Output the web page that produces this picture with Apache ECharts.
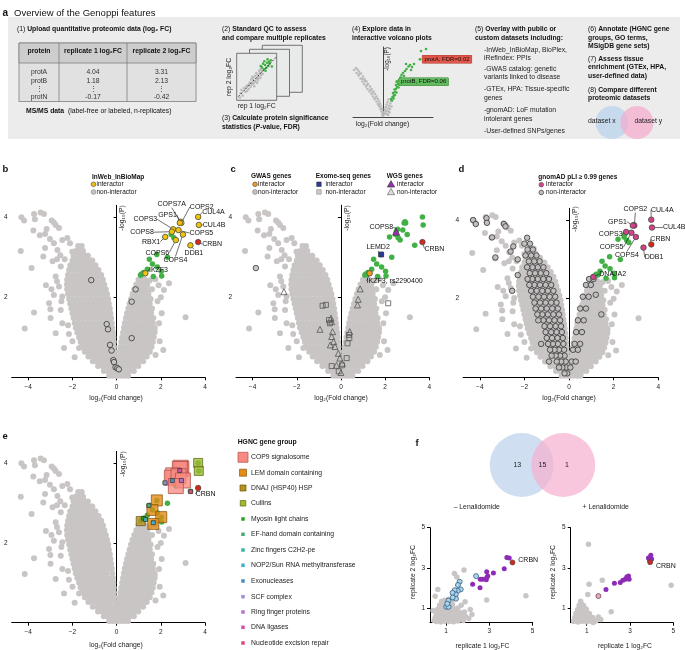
<!DOCTYPE html>
<html>
<head>
<meta charset="utf-8">
<script src="https://cdn.jsdelivr.net/npm/echarts@6/dist/echarts.min.js"></script>
<style>
html, body { margin: 0; padding: 0; background: #fff; }
#chart { width: 685px; height: 650px; }
</style>
</head>
<body>
<div id="chart"></div>
<script>
// ---- data ----

// background proteins of the volcano plots b-e: rows of [-log10 P, [log2FC ...]]
const grayRows = [
  [0.04, [-0.34, -0.18, -0.02, 0.03, 0.2, 0.36, 0.52]],
  [0.16, [-0.58, -0.4, -0.22, -0.04, 0.05, 0.24, 0.42, 0.6, 0.78]],
  [0.28, [-0.84, -0.64, -0.45, -0.26, -0.05, 0.07, 0.26, 0.44, 0.62, 0.8, 0.98]],
  [0.40, [-1.08, -0.88, -0.68, -0.48, -0.28, -0.06, 0.09, 0.28, 0.46, 0.64, 0.82, 1.0, 1.2]],
  [0.52, [-1.28, -1.08, -0.88, -0.68, -0.48, -0.28, -0.08, 0.11, 0.3, 0.48, 0.66, 0.84, 1.02, 1.2, 1.36]],
  [0.64, [-1.44, -1.24, -1.04, -0.84, -0.64, -0.44, -0.26, -0.1, 0.14, 0.32, 0.5, 0.68, 0.86, 1.04, 1.22, 1.4, 1.5]],
  [0.76, [-1.54, -1.34, -1.14, -0.94, -0.74, -0.54, -0.34, -0.12, 0.17, 0.36, 0.54, 0.72, 0.9, 1.08, 1.26, 1.44, 1.58]],
  [0.88, [-1.62, -1.42, -1.22, -1.02, -0.82, -0.62, -0.42, -0.25, -0.13, 0.21, 0.4, 0.58, 0.76, 0.94, 1.12, 1.3, 1.48, 1.64]],
  [1.00, [-1.7, -1.5, -1.3, -1.1, -0.9, -0.7, -0.5, -0.3, -0.15, 0.25, 0.44, 0.62, 0.8, 0.98, 1.16, 1.34, 1.52, 1.68]],
  [1.12, [-1.78, -1.58, -1.38, -1.18, -0.98, -0.78, -0.58, -0.38, -0.17, 0.29, 0.48, 0.66, 0.84, 1.02, 1.2, 1.38, 1.56, 1.72]],
  [1.24, [-1.85, -1.65, -1.45, -1.25, -1.05, -0.85, -0.65, -0.45, -0.2, 0.33, 0.52, 0.7, 0.88, 1.06, 1.24, 1.42, 1.6, 1.72]],
  [1.36, [-1.9, -1.7, -1.5, -1.3, -1.1, -0.9, -0.7, -0.5, -0.36, -0.22, 0.37, 0.56, 0.74, 0.92, 1.1, 1.28, 1.46, 1.64]],
  [1.48, [-1.95, -1.75, -1.55, -1.35, -1.15, -0.95, -0.75, -0.55, -0.4, -0.25, 0.42, 0.6, 0.78, 0.96, 1.14, 1.32, 1.5, 1.66]],
  [1.60, [-2.0, -1.8, -1.6, -1.4, -1.2, -1.0, -0.8, -0.6, -0.44, -0.28, 0.47, 0.66, 0.84, 1.02, 1.2, 1.38, 1.56]],
  [1.72, [-2.05, -1.85, -1.65, -1.45, -1.25, -1.05, -0.85, -0.65, -0.48, -0.31, 0.53, 0.72, 0.9, 1.08, 1.26, 1.44, 1.6]],
  [1.84, [-2.1, -1.9, -1.7, -1.5, -1.3, -1.1, -0.9, -0.7, -0.52, -0.35, 0.59, 0.78, 0.96, 1.14, 1.32, 1.5]],
  [1.96, [-2.15, -1.95, -1.75, -1.55, -1.35, -1.15, -0.95, -0.75, -0.56, -0.38, 0.65, 0.84, 1.02, 1.2, 1.38, 1.54]],
  [2.08, [-2.2, -2.0, -1.8, -1.6, -1.4, -1.2, -1.0, -0.8, -0.6, -0.43, 0.72, 0.9, 1.08, 1.26, 1.44]],
  [2.20, [-2.24, -2.04, -1.84, -1.64, -1.44, -1.24, -1.04, -0.84, -0.66, -0.49, 0.8, 0.98, 1.16, 1.32, 1.45]],
  [2.32, [-2.25, -2.05, -1.85, -1.65, -1.45, -1.25, -1.05, -0.88, -0.72, -0.56, 0.89, 1.06, 1.22, 1.38]],
  [2.44, [-2.24, -2.04, -1.84, -1.64, -1.44, -1.24, -1.06, -0.9, -0.76, -0.62, 0.99, 1.14, 1.28]],
  [2.56, [-2.2, -2.0, -1.8, -1.6, -1.42, -1.26, -1.1, -0.95, -0.8, -0.7, 1.08, 1.2]],
  [2.68, [-2.15, -1.95, -1.75, -1.57, -1.4, -1.24, -1.08, -0.92, -0.82]],
  [2.80, [-2.1, -1.9, -1.72, -1.55, -1.38, -1.22, -1.06, -0.96]],
  [2.92, [-2.0, -1.82, -1.65, -1.5, -1.34, -1.18, -1.1]],
  [3.04, [-1.95, -1.78, -1.6, -1.44, -1.3]],
  [3.16, [-1.85, -1.68, -1.52]],
  [3.28, [-1.74, -1.58]]
];
const grayOutliers = [
  [-4.31, 4.0], [-4.19, 3.92], [-3.74, 4.08], [-3.7, 3.95], [-3.44, 4.12], [-3.29, 4.08], [-2.94, 3.92],
  [-2.84, 3.87], [-2.76, 3.81], [-2.61, 3.73], [-3.17, 3.71], [-3.48, 3.55], [-3.24, 3.58], [-3.77, 3.67],
  [-4.34, 3.16], [-3.85, 2.73], [-3.32, 3.02], [-3.24, 3.23], [-3.02, 3.46], [-2.84, 3.35], [-2.68, 3.18],
  [-2.46, 3.43], [-2.23, 3.48], [-2.11, 3.35], [-2.01, 3.14], [-2.53, 2.77], [-2.76, 2.52], [-2.61, 2.27],
  [-2.84, 2.06], [-2.46, 2.02], [-3.06, 1.85], [-3.74, 1.62], [-4.16, 1.22], [-2.53, 1.68], [-2.46, 1.35],
  [-2.38, 0.73], [-1.7, 0.73], [-1.63, 0.89], [-2.16, 1.08], [-2.76, 1.1], [-2.99, 1.48], [-2.9, 2.9],
  [-2.7, 2.95], [-2.35, 2.95], [-2.55, 3.05], [-2.7, 2.4], [-2.5, 1.9], [-2.2, 1.3], [-1.9, 0.5],
  [-2.0, 0.9], [-3.2, 2.3], [-2.95, 2.2], [-3.0, 1.7],
  [3.12, 1.5], [2.37, 2.35], [2.14, 2.18], [2.11, 0.68], [1.76, 0.56], [2.04, 1.6], [1.92, 1.35],
  [1.72, 1.18], [2.0, 2.0], [1.9, 2.3], [1.85, 1.9], [1.95, 0.9], [1.6, 2.2], [1.75, 2.45], [1.5, 2.42]
];

// significant proteins (green), [log2FC, -log10 P, gene]
const sigPoints = [
  [3.69, 4.01, 'CUL4A'], [3.72, 3.81, 'CUL4B'], [2.90, 3.89, 'COPS7A'], [2.93, 3.86, 'COPS2'],
  [2.86, 3.86, 'GPS1'], [2.56, 3.70, 'COPS3'], [2.50, 3.64, 'COPS8'], [2.80, 3.68, 'COPS5'],
  [3.00, 3.57, 'COPS4'], [2.20, 3.51, 'RBX1'], [2.68, 3.43, 'COPS6'], [3.34, 3.30, 'DDB1'],
  [1.30, 2.60, 'IKZF3'], [1.82, 3.07, 'LEMD2'], [1.09, 2.55, 'DNAJA2'],
  [2.47, 3.57, ''], [2.59, 3.49, ''], [2.30, 3.00, ''], [1.48, 2.95, ''], [1.62, 2.83, ''],
  [1.84, 2.76, ''], [1.39, 2.70, ''], [2.02, 2.65, ''], [1.13, 2.58, ''], [1.66, 2.52, ''],
  [2.04, 2.53, ''], [1.22, 2.62, '']
];
const baitPoint = [3.69, 3.38, 'CRBN'];

// b: InWeb_InBioMap
const inwebGenes = ['CUL4A', 'CUL4B', 'COPS7A', 'COPS2', 'GPS1', 'COPS3', 'COPS8', 'COPS5', 'COPS4', 'RBX1', 'COPS6', 'DDB1', 'IKZF3'];
const inwebNon = [[-1.15, 2.43], [0.86, 2.2], [0.68, 1.89], [-0.45, 1.33], [-0.39, 1.2], [0.68, 0.98], [-0.3, 0.81],
  [-0.23, 0.67], [-0.15, 0.43], [-0.12, 0.38], [-0.05, 0.25], [0.03, 0.23], [0.1, 0.2]];

// c: GWAS / Exome-seq / WGS
const gwasGenes = ['IKZF3'];
const exomeGenes = ['LEMD2'];
const wgsGenes = ['COPS8'];
const gwasNon = [[-3.85, 2.73]];
const exomeNon = [[-0.68, 1.81], [-0.83, 1.79], [2.14, 1.85], [-0.54, 1.43], [-0.5, 1.35], [-0.42, 0.28],
  [0.26, 0.48], [0.36, 1.06], [0.38, 0.98], [0.3, 0.85], [-0.1, 0.15], [0.05, 0.3]];
const wgsNon = [[-2.58, 2.14], [0.87, 2.21], [0.78, 1.95], [0.75, 1.81], [-0.45, 1.48], [-0.42, 1.39], [-0.95, 1.2],
  [-0.38, 1.14], [-0.42, 1.02], [-0.33, 0.89], [-0.27, 0.77], [-0.12, 0.6], [-0.05, 0.48], [0.06, 0.35],
  [0, 0.12], [0.4, 1.14], [-0.48, 0.81], [-0.2, 0.3]];

// d: gnomAD pLI >= 0.99
const gnomadGenes = ['COPS2', 'GPS1', 'CUL4A', 'CUL4B', 'COPS3', 'COPS5', 'COPS4', 'DDB1', 'DNAJA2'];
const gnomadNonRows = [
  [0.10, [-0.08, -0.2]], [0.25, [-0.12, -0.3, -0.45, 0.06]], [0.40, [-0.15, -0.35, -0.55, 0.12, 0.3]],
  [0.55, [-0.2, -0.4, -0.6, -0.78]], [0.70, [-0.22, -0.45, -0.65, -0.85, 0.18, 0.4]],
  [0.85, [-0.25, -0.5, -0.72, -0.94, 0.25, 0.5]], [1.00, [-0.28, -0.52, -0.76, -1.0]],
  [1.15, [-0.32, -0.56, -0.8, -1.05, 0.32, 0.58]], [1.30, [-0.36, -0.6, -0.85, -1.1]],
  [1.45, [-0.4, -0.65, -0.9, -1.15, -1.38, 0.4, 0.66]], [1.60, [-0.45, -0.7, -0.95, -1.2, -1.42]],
  [1.75, [-0.5, -0.75, -1.0, -1.25, -1.5, 0.5, 0.76]], [1.90, [-0.56, -0.8, -1.05, -1.3, -1.55]],
  [2.05, [-0.62, -0.87, -1.12, -1.37, -1.62, 0.62, 0.88]], [2.20, [-0.7, -0.95, -1.2, -1.45, -1.7]],
  [2.35, [-0.8, -1.05, -1.3, -1.55, -1.78, 0.76, 0.98]], [2.50, [-0.9, -1.15, -1.4, -1.65, -1.86, 0.9, 1.1]],
  [2.65, [-1.02, -1.27, -1.52, -1.76]], [2.80, [-1.15, -1.4, -1.64, -1.88]], [2.95, [-1.32, -1.56, -1.8]],
  [3.10, [-1.46, -1.7, -1.95]], [3.25, [-1.62, -1.86]], [3.40, [-1.75, -2.0]], [3.55, [-1.88]]
];
const gnomadNonOutliers = [[-4.3, 4.0], [-4.18, 3.9], [-3.7, 4.05], [-3.68, 3.93], [-2.92, 3.9], [-2.85, 3.84],
  [-3.45, 3.56], [-2.5, 3.33], [-2.62, 3.2], [-3.3, 3.05], [-2.55, 2.2], [-2.3, 2.6], [1.45, 1.6], [1.2, 2.1],
  [-0.9, 0.4], [-1.25, 0.85], [-2.3, 3.0]];

// e: HGNC gene groups
const hgncGroups = ['COP9 signalosome', 'LEM domain containing', 'DNAJ (HSP40) HSP', 'Cullins', 'Myosin light chains',
  'EF-hand domain containing', 'Zinc fingers C2H2-pe', 'NOP2/Sun RNA methyltransferase', 'Exonucleases',
  'SCF complex', 'Ring finger proteins', 'DNA ligases', 'Nucleotide excision repair'];
const hgncColors = ['#f88a83', '#e38b12', '#b8921e', '#9fb92e', '#2c9f28', '#4aa878', '#3cb3a0', '#3fb0cc',
  '#4a8cc0', '#9494d4', '#b672c8', '#d252a6', '#dc4a84'];
const hgncPoints = [
  [[2.90, 3.89], [2.93, 3.86], [2.86, 3.86], [2.56, 3.70], [2.50, 3.64], [2.80, 3.68], [3.00, 3.57], [2.68, 3.43]],
  [[1.82, 3.07], [1.62, 2.83], [2.02, 2.65], [1.66, 2.48]],
  [[1.09, 2.55]],
  [[3.69, 4.01], [3.72, 3.81]],
  [[1.22, 2.62]],
  [[1.46, 2.94]],
  [[1.31, 2.59]],
  [[1.66, 2.51]],
  [[2.52, 3.57]],
  [[2.19, 3.51]],
  [[2.93, 3.57]],
  [[2.86, 3.82]],
  [[3.35, 3.29]]
];

// f: overlap of two IP experiments
const vennLabels = ['\u2013 Lenalidomide', '+ Lenalidomide'];
const vennCounts = [13, 15, 1];
const fLeftGray = [[0.45, 0.4], [0.55, 0.35], [0.65, 0.42], [0.75, 0.33], [0.85, 0.4], [0.95, 0.36], [1.05, 0.42],
  [1.15, 0.35], [1.25, 0.4], [1.35, 0.34], [1.45, 0.42], [1.55, 0.38], [1.65, 0.45], [1.8, 0.4], [0.5, 0.55],
  [0.6, 0.6], [0.7, 0.52], [0.8, 0.62], [0.9, 0.55], [1.0, 0.6], [1.1, 0.52], [1.2, 0.62], [1.3, 0.55], [1.4, 0.6],
  [1.5, 0.55], [1.62, 0.62], [1.75, 0.58], [1.9, 0.6], [2.05, 0.5], [0.55, 0.75], [0.65, 0.8], [0.75, 0.72],
  [0.85, 0.82], [0.95, 0.75], [1.05, 0.82], [1.15, 0.74], [1.25, 0.84], [1.35, 0.78], [1.5, 0.8], [1.65, 0.78],
  [1.85, 0.82], [0.6, 0.95], [0.72, 1.0], [0.85, 0.95], [0.95, 1.02], [1.08, 0.96], [1.2, 1.05], [1.35, 1.0],
  [1.55, 1.02], [0.7, 1.15], [0.85, 1.2], [1.0, 1.15], [1.15, 1.25], [1.3, 1.2], [0.8, 1.35], [0.95, 1.4],
  [1.1, 1.45], [1.25, 1.35], [0.62, 1.94], [1.39, 2.73], [1.5, 2.56], [1.83, 2.9], [1.88, 1.33], [2.12, 0.95],
  [2.88, 1.41], [4.69, 1.62], [0.5, 1.6], [1.7, 1.15], [2.2, 0.7], [0.4, 0.9]];
const fLeftPurple = [[3.81, 3.52], [3.92, 3.5], [3.69, 2.96], [3.19, 2.76], [2.88, 2.81], [2.93, 2.6], [2.86, 2.42],
  [2.69, 2.45], [2.58, 2.44], [2.57, 2.02], [2.23, 2.2], [2.88, 2.53]];
const fLeftBlue = [[2.39, 2.6], [1.63, 2.32], [1.55, 2.16], [1.68, 1.94], [1.54, 1.87], [1.4, 1.9], [1.45, 1.69],
  [1.3, 1.77], [1.46, 1.48], [1.31, 1.54], [1.11, 1.38], [1.01, 1.08], [1.12, 1.08], [1.06, 1.23]];
const fLeftBait = [4.07, 3.28, 'CRBN'];
const fRightGray = [[0.4, 0.35], [0.5, 0.4], [0.6, 0.33], [0.7, 0.42], [0.8, 0.36], [0.9, 0.4], [1.0, 0.34],
  [1.1, 0.4], [1.2, 0.36], [1.3, 0.42], [1.42, 0.38], [0.45, 0.55], [0.55, 0.6], [0.65, 0.52], [0.75, 0.62],
  [0.85, 0.55], [0.95, 0.6], [1.05, 0.52], [1.15, 0.6], [1.28, 0.55], [0.5, 0.75], [0.6, 0.8], [0.7, 0.72],
  [0.8, 0.82], [0.9, 0.75], [1.0, 0.8], [1.12, 0.74], [0.58, 0.95], [0.68, 1.0], [0.78, 0.94], [0.88, 1.02],
  [0.98, 0.96], [0.65, 1.15], [0.75, 1.22], [0.85, 1.14], [0.72, 1.35], [1.54, 0.57], [1.08, 4.18], [1.11, 2.2],
  [1.05, 1.69], [1.72, 2.4], [2.13, 0.83], [4.9, 2.15], [1.3, 0.3], [1.65, 0.45]];
const fRightPurple = [[3.96, 3.64], [3.85, 3.5], [4.0, 3.45], [3.9, 3.4], [2.93, 2.61], [2.96, 2.45], [2.78, 2.45],
  [2.67, 2.4], [2.55, 2.28], [2.28, 2.24], [1.89, 1.94], [2.85, 2.56]];
const fRightPink = [[1.54, 1.61]];
const fRightBait = [3.93, 3.29, 'CRBN'];

// a: example table and mini plots
const tableHeader = ['protein', 'replicate 1 log\u2082FC', 'replicate 2 log\u2082FC'];
const tableRows = [['protA', '4.04', '3.31'], ['protB', '1.18', '2.13'], ['\u22ee', '\u22ee', '\u22ee'], ['protN', '-0.17', '-0.42']];
const qcGray = [[1, 1.5], [1.5, 1], [2, 2.5], [2.2, 1.8], [2.8, 3.2], [3, 2.4], [3.3, 3.8], [3.5, 2.9], [3.8, 3.4],
  [4, 4.5], [4.2, 3.6], [4.5, 4.1], [4.6, 5.2], [4.8, 3.9], [5, 4.6], [5.2, 5.5], [5.3, 4.3], [5.5, 5.0], [5.8, 5.8],
  [5.9, 4.8], [6.1, 5.4], [6.3, 6.2], [4.4, 3.0], [3.6, 4.4], [2.6, 2.0], [1.8, 2.6], [6.5, 5.6], [5.6, 6.3],
  [4.9, 5.8], [3.9, 5.0], [5.1, 3.7], [6.0, 6.6], [2.4, 3.0], [3.1, 3.4], [4.1, 4.9], [5.4, 4.7], [1.2, 2.2], [0.8, 0.6]];
const qcGreen = [[6.3, 7.0], [6.8, 6.6], [7.1, 7.5], [7.4, 6.9], [7.6, 8.0], [7.9, 7.3], [8.2, 7.8], [6.6, 7.8],
  [7.2, 6.3], [8.5, 8.5], [8.8, 7.2], [6.9, 8.3], [7.7, 8.7], [6.0, 7.3], [8.1, 8.2]];
const qcDiagonal = [[0.4, 0.8], [10, 9.3]];
const mvGray = [[-2.7, 4.9], [-2.55, 4.75], [-2.4, 4.55], [-2.65, 4.4], [-2.2, 4.35], [-2.45, 4.15], [-2.0, 4.05],
  [-2.25, 3.85], [-1.85, 3.8], [-2.05, 3.55], [-1.65, 3.55], [-1.9, 3.3], [-1.5, 3.3], [-1.7, 3.05], [-1.3, 3.05],
  [-1.55, 2.8], [-1.15, 2.8], [-1.35, 2.55], [-0.95, 2.55], [-1.15, 2.3], [-0.8, 2.3], [-1.0, 2.05], [-0.65, 2.05],
  [-0.85, 1.8], [-0.5, 1.8], [-0.65, 1.55], [-0.38, 1.55], [-0.5, 1.3], [-0.28, 1.3], [-0.36, 1.05], [-0.18, 1.05],
  [-0.25, 0.8], [-0.1, 0.8], [-0.15, 0.55], [-0.05, 0.5], [-0.08, 0.25], [0, 0.1], [-1.8, 3.6], [-2.35, 4.3],
  [-1.25, 2.7], [-0.75, 1.9], [-0.45, 1.2], [-2.9, 4.7], [-2.1, 3.8], [-1.6, 3.2], [-1.05, 2.45],
  [0.06, 0.25], [0.12, 0.5], [0.2, 0.75], [0.28, 1.0], [0.36, 1.25], [0.45, 1.5], [0.55, 1.75], [0.22, 0.35],
  [0.35, 0.6], [0.48, 0.85], [0.6, 1.1], [0.72, 1.35], [0.82, 1.6], [0.38, 0.3], [0.55, 0.55], [0.7, 0.8],
  [0.85, 1.05], [0.5, 0.2], [0.65, 0.45]];
const mvGreen = [[0.8, 1.8], [0.95, 2.0], [0.9, 1.65], [1.05, 1.85], [1.1, 2.2], [1.0, 2.4], [1.2, 2.5], [1.3, 2.8],
  [1.15, 2.75], [1.4, 3.0], [1.3, 3.2], [1.5, 3.3], [1.45, 3.55], [1.6, 3.7], [1.7, 3.5], [1.75, 3.95], [1.85, 4.2],
  [1.9, 3.8], [2.0, 4.4], [2.1, 4.1], [2.2, 4.6], [2.35, 4.8], [2.3, 5.3], [2.55, 5.05], [2.7, 5.2], [2.9, 5.0],
  [3.1, 5.3], [2.8, 4.7], [3.8, 6.6], [4.3, 6.8], [1.2, 2.2], [1.35, 2.45], [1.55, 2.95], [1.65, 3.2], [1.05, 2.05]];
const mvLabelled = [[3.7, 5.77, 'protA, FDR=0.02'], [1.37, 3.53, 'protB, FDR=0.06']];

// ---- drawing ----
const FONT = 'Liberation Sans, Arial, Helvetica, sans-serif';
const GRAY = '#c9c5c5';
const GREEN = '#41b045';
const RED = '#d42a1e';
const chart = echarts.init(document.getElementById('chart'));

const sigByName = {};
sigPoints.forEach(p => { if (p[2]) sigByName[p[2]] = p; });
sigByName.CRBN = baitPoint;
const rowsToPoints = rows => rows.flatMap(([y, xs]) => xs.map(x => [x, y]));
const grayPoints = rowsToPoints(grayRows).concat(grayOutliers);
const gnomadNon = rowsToPoints(gnomadNonRows).concat(gnomadNonOutliers);
const sigXY = sigPoints.map(p => [p[0], p[1]]);

const minus = v => (v < 0 ? '\u2212' + Math.abs(v) : String(v));
const axisLineStyle = { color: '#000', width: 1 };

function volcanoX(gi) {
  return {
    gridIndex: gi, type: 'value', min: -4.75, max: 4,
    axisLine: { lineStyle: axisLineStyle },
    axisTick: { customValues: [-4, -2, 0, 2, 4], length: 3, lineStyle: axisLineStyle },
    axisLabel: { customValues: [-4, -2, 0, 2, 4], formatter: minus, fontSize: 6.5, color: '#222', margin: 6 },
    splitLine: { show: false }
  };
}
function volcanoY(gi) {
  return {
    gridIndex: gi, type: 'value', min: 0, max: 4.3,
    axisLine: { onZero: true, lineStyle: axisLineStyle },
    axisTick: { customValues: [2, 4], length: 3, lineStyle: axisLineStyle },
    axisLabel: { customValues: [2, 4], fontSize: 6.5, color: '#222', margin: 4 },
    splitLine: { show: false }
  };
}
function repAxis(gi, min) {
  return {
    gridIndex: gi, type: 'value', min: min, max: 5,
    axisLine: { onZero: false, lineStyle: axisLineStyle },
    axisTick: { customValues: [1, 3, 5], length: 3, lineStyle: axisLineStyle },
    axisLabel: { customValues: [1, 3, 5], fontSize: 6.5, color: '#222', margin: 5 },
    splitLine: { show: false }
  };
}
function hiddenAxis(gi, min, max) {
  return { gridIndex: gi, type: 'value', min, max, show: false };
}

function pts(gi, data, size, itemStyle, extra) {
  return Object.assign({
    type: 'scatter', xAxisIndex: gi, yAxisIndex: gi, data, symbolSize: size,
    itemStyle: Object.assign({ opacity: 1, borderWidth: 0 }, itemStyle), silent: true
  }, extra || {});
}

// labelled highlight points; offsets are [dx, dy, align, text?] in pixels from the point
function labelled(gi, genes, offsets, size, itemStyle, extra) {
  const data = genes.map(g => ({ name: g, value: [sigByName[g][0], sigByName[g][1]] }));
  return Object.assign({
    type: 'scatter', xAxisIndex: gi, yAxisIndex: gi, data, symbolSize: size,
    itemStyle: Object.assign({ opacity: 1 }, itemStyle), silent: true, z: 5,
    label: {
      show: true, position: 'inside', fontSize: 7, color: '#111', fontFamily: FONT,
      formatter: p => (offsets[p.name] && offsets[p.name][3]) || p.name
    },
    labelLine: { show: true, lineStyle: { color: '#111', width: 0.6 } },
    labelLayout: p => {
      const o = offsets[data[p.dataIndex].name] || [6, 0, 'left'];
      return {
        x: p.rect.x + p.rect.width / 2 + o[0], y: p.rect.y + p.rect.height / 2 + o[1],
        align: o[2], verticalAlign: 'middle'
      };
    }
  }, extra || {});
}

const bOffsets = {
  CUL4A: [4, -4.5, 'left'], CUL4B: [4, 0, 'left'], COPS7A: [-9, -17.5, 'center'], COPS2: [8.5, -16, 'left'],
  GPS1: [-3, -8, 'right'], COPS3: [-16, -10, 'right'], COPS8: [-18, 0.5, 'right'], COPS5: [11, 3, 'left'],
  RBX1: [-5, 4.8, 'right'], COPS6: [-18.5, 12.5, 'center'], COPS4: [-7.5, 25.5, 'center'],
  DDB1: [3.5, 7.5, 'center'], CRBN: [4, 2, 'left'], IKZF3: [3.6, -3.3, 'left']
};
const cOffsets = {
  COPS8: [-3, -4.5, 'right'], LEMD2: [-3, -7, 'center'], IKZF3: [-3, 7.5, 'left', 'IKZF3, rs2290400'],
  CRBN: [2, 6.5, 'left']
};
const dOffsets = {
  COPS2: [1, -16.5, 'center'], GPS1: [-6, -4, 'right'], CUL4A: [11, -10, 'center'], CUL4B: [11, 0, 'left'],
  COPS3: [-3.5, 2, 'right'], COPS5: [-8, 14.5, 'right'], COPS4: [-9, 18, 'center'], DDB1: [10.5, 9.7, 'center'],
  DNAJA2: [6, -3, 'left'], CRBN: [9, -5, 'center']
};
const eOffsets = { CRBN: [-2.5, 6, 'left'] };

const outline = c => ({ color: c, borderColor: '#444', borderWidth: 0.7 });
const series = [];

// panel b
series.push(pts(0, grayPoints, 6, { color: GRAY }));
series.push(pts(0, inwebNon, 5.5, { color: GRAY, borderColor: '#333', borderWidth: 0.8 }));
series.push(pts(0, sigXY, 5.5, { color: GREEN }));
series.push(labelled(0, inwebGenes, bOffsets, 5.5, outline('#f4c20d')));
series.push(labelled(0, ['CRBN'], bOffsets, 5.5, outline(RED)));
// panel c
series.push(pts(1, grayPoints, 6, { color: GRAY }));
series.push(pts(1, gwasNon, 5.5, { color: GRAY, borderColor: '#444', borderWidth: 0.8 }));
series.push(pts(1, exomeNon, 5, { color: 'rgba(255,255,255,0)', borderColor: '#555', borderWidth: 0.8 }, { symbol: 'rect' }));
series.push(pts(1, wgsNon, 6, { color: 'rgba(255,255,255,0)', borderColor: '#555', borderWidth: 0.8 }, { symbol: 'triangle' }));
series.push(pts(1, sigXY, 5.5, { color: GREEN }));
series.push(labelled(1, gwasGenes, cOffsets, 5.5, outline('#f39a1c')));
series.push(labelled(1, exomeGenes, cOffsets, 5, { color: '#2b3b98', borderColor: '#222', borderWidth: 0.6 }, { symbol: 'rect' }));
series.push(labelled(1, wgsGenes, cOffsets, 7, { color: '#9a2fb2', borderColor: '#333', borderWidth: 0.6 }, { symbol: 'triangle' }));
series.push(labelled(1, ['CRBN'], cOffsets, 5.5, outline(RED)));
// panel d
series.push(pts(2, grayPoints, 6, { color: GRAY }));
series.push(pts(2, gnomadNon, 5.5, { color: '#c2bebe', borderColor: '#333', borderWidth: 0.8 }));
series.push(pts(2, sigXY, 5.5, { color: GREEN }));
series.push(labelled(2, gnomadGenes, dOffsets, 5.5, outline('#d8408c')));
series.push(labelled(2, ['CRBN'], dOffsets, 5.5, outline(RED)));
// panel e
series.push(pts(3, grayPoints, 6, { color: GRAY }));
series.push(pts(3, sigXY, 5.5, { color: GREEN }));
const groupSizes = [15, 11, 9, 9, 4, 4, 4, 4, 4, 4, 4, 4, 4];
const groupBorders = ['#b0524a', '#8a5a10', '#6a5510', '#5c6c18'];
hgncGroups.forEach((name, i) => {
  const big = i < 4;
  series.push(pts(3, hgncPoints[i], groupSizes[i], {
    color: hgncColors[i], opacity: big ? 0.78 : 1,
    borderColor: big ? groupBorders[i] : '#333', borderWidth: big ? 1 : 0.7
  }, { symbol: 'rect', z: 4 }));
});
series.push(labelled(3, ['CRBN'], eOffsets, 5.5, outline(RED)));
// panel f
series.push(pts(6, [[-0.277, 0]], 64, { color: '#c7d9ef', opacity: 0.85 }));
series.push(pts(6, [[0.277, 0]], 64, { color: '#f7afcf', opacity: 0.7 }));
series.push(pts(6, [[-0.336, 0], [0, 0], [0.325, 0]].map((p, i) => ({ value: p, name: String(vennCounts[i]) })), 1,
  { color: 'rgba(0,0,0,0)' },
  { label: { show: true, position: 'inside', formatter: p => p.name, fontSize: 7, color: '#222' }, z: 6 }));
series.push(pts(4, fLeftGray, 5.5, { color: GRAY }));
series.push(pts(4, fLeftPurple, 5, { color: '#8d2bb6' }));
series.push(pts(4, fLeftBlue, 5, { color: '#a6d6ef', borderColor: '#2d4c6c', borderWidth: 0.7 }));
series.push(pts(4, [fLeftBait], 5, outline(RED), {
  label: { show: true, position: 'right', distance: 3, offset: [0, -2.5], formatter: 'CRBN', fontSize: 7, color: '#111' }
}));
series.push(pts(5, fRightGray, 5.5, { color: GRAY }));
series.push(pts(5, fRightPurple, 5, { color: '#8d2bb6' }));
series.push(pts(5, fRightPink, 5, { color: '#f2a3c4', borderColor: '#444', borderWidth: 0.7 }));
series.push(pts(5, [fRightBait], 5, outline(RED), {
  label: { show: true, position: 'right', distance: 3, offset: [0, 3.5], formatter: 'CRBN', fontSize: 7, color: '#111' }
}));
// panel a mini plots
series.push(pts(7, qcGray, 2.6, { color: '#bdbaba' }));
series.push(pts(7, qcGreen, 2.6, { color: GREEN }));
series.push({
  type: 'line', xAxisIndex: 7, yAxisIndex: 7, data: qcDiagonal, symbol: 'none', silent: true,
  lineStyle: { color: '#111', width: 0.8, type: [2, 1.5] }
});
series.push(pts(8, mvGray, 2.6, { color: '#bdbaba' }));
series.push(pts(8, mvGreen, 2.6, { color: GREEN }));
const mvData = mvLabelled.map(p => ({ value: [p[0], p[1]], name: p[2] }));
mvData[0].label = { backgroundColor: '#e2564a', borderColor: '#b03a30', borderWidth: 0.5 };
mvData[1].label = { backgroundColor: '#62bb5e', borderColor: '#3d8a3a', borderWidth: 0.5 };
series.push(pts(8, mvData, 2.8, { color: GREEN }, {
  label: {
    show: true, position: 'right', distance: 1, fontSize: 6, color: '#111', formatter: p => p.name,
    padding: [1, 2, 0.5, 2]
  }
}));

// ---- graphic (text, table, frames, legends) ----
const g = [];
function T(x, y, text, o) {
  o = o || {};
  return {
    type: 'text', x, y, z: 10, silent: true, rotation: o.rot || 0,
    style: {
      text, fontFamily: FONT, fontSize: o.size || 6.8, fontWeight: o.bold ? 'bold' : 'normal',
      fontStyle: o.italic ? 'italic' : 'normal',
      fill: o.color || '#111', align: o.align || 'left', verticalAlign: 'middle', rich: o.rich
    }
  };
}
const R = (size) => ({
  n: { fontSize: size, fontFamily: FONT, fill: '#111' },
  b: { fontSize: size, fontFamily: FONT, fontWeight: 'bold', fill: '#111' },
  bi: { fontSize: size, fontFamily: FONT, fontWeight: 'bold', fontStyle: 'italic', fill: '#111' }
});
const rich = R(6.8);
function rect(x, y, w, h, fill, stroke, lw, z) {
  return { type: 'rect', z: z || 0, silent: true, shape: { x, y, width: w, height: h }, style: { fill, stroke, lineWidth: lw || 0.8 } };
}
function line(x1, y1, x2, y2, stroke, lw) {
  return { type: 'line', z: 1, silent: true, shape: { x1, y1, x2, y2 }, style: { stroke, lineWidth: lw || 0.8 } };
}
function circ(cx, cy, r, fill, stroke, z) {
  return { type: 'circle', z: z || 10, silent: true, shape: { cx, cy, r }, style: { fill, stroke: stroke || null, lineWidth: 0.7 } };
}
function tri(cx, cy, s, fill, stroke) {
  return {
    type: 'polygon', z: 10, silent: true,
    shape: { points: [[cx, cy - s * 0.6], [cx + s * 0.6, cy + s * 0.45], [cx - s * 0.6, cy + s * 0.45]] },
    style: { fill, stroke, lineWidth: 0.7 }
  };
}

// panel a
g.push(rect(8, 17, 672, 122, '#ececec', null, 0, 0));
g.push(T(2.5, 13, 'a', { bold: true, size: 10 }));
g.push(T(14, 13, 'Overview of the Genoppi features', { size: 9.5 }));
g.push(T(17, 29, '{n|(1) }{b|Upload quantitative proteomic data (log\u2082 FC)}', { rich }));
g.push(rect(19, 43, 177, 58.5, '#e1e1e1', '#7f7f7f', 0.8, 1));
g.push(rect(19, 43, 177, 20, '#cdcdcd', '#7f7f7f', 0.8, 1));
g.push(line(59, 43, 59, 101.5, '#7f7f7f'));
g.push(line(127, 43, 127, 101.5, '#7f7f7f'));
const colX = [39, 93, 161.5];
tableHeader.forEach((h, i) => g.push(T(colX[i], 51, h, { bold: true, align: 'center' })));
const rowY = [72, 81, 89, 97];
tableRows.forEach((r, j) => r.forEach((c, i) => g.push(T(colX[i], rowY[j], c, { align: 'center', color: '#333' }))));
g.push(T(26, 111, '{b|MS/MS data}{n|  (label-free or labeled, n-replicates)}', { rich }));

g.push(T(222, 29, '{n|(2) }{b|Standard QC to assess}', { rich }));
g.push(T(222, 37.7, '{b|and compare multiple replicates}', { rich }));
g.push(rect(262.3, 45.3, 40, 47, '#e9ebea', '#555', 0.8, 0));
g.push(rect(249.5, 49.3, 40, 47, '#e9ebea', '#555', 0.8, 0));
g.push(rect(236.7, 53.3, 40, 47, '#e9ebea', '#555', 0.8, 0));
g.push(T(229.5, 77, 'rep 2 log\u2082FC', { align: 'center', rot: Math.PI / 2, color: '#222' }));
g.push(T(256.7, 106, 'rep 1 log\u2082FC', { align: 'center', color: '#222' }));
g.push(T(222, 118.3, '{n|(3) }{b|Calculate protein significance}', { rich }));
g.push(T(222, 127, '{b|statistics (}{bi|P}{b|-value, FDR)}', { rich }));

g.push(T(352, 29, '{n|(4) }{b|Explore data in}', { rich }));
g.push(T(352, 37.7, '{b|interactive volcano plots}', { rich }));
g.push(T(387.5, 59, '-log\u2081\u2080(P)', { align: 'center', rot: Math.PI / 2, color: '#222', size: 6.3 }));
g.push(T(382.5, 124.3, 'log\u2082(Fold change)', { align: 'center', color: '#222' }));

g.push(T(475, 29, '{n|(5) }{b|Overlay with public or}', { rich }));
g.push(T(475, 38, '{b|custom datasets including:}', { rich }));
const overlayLines = [
  [49.7, '-InWeb_InBioMap, BioPlex,'], [57.7, 'iRefIndex: PPIs'],
  [69.3, '-GWAS catalog: genetic'], [77.3, 'variants linked to disease'],
  [89.3, '-GTEx, HPA: Tissue-specific'], [98, 'genes'],
  [110.3, '-gnomAD: LoF mutation'], [118.7, 'intolerant genes'],
  [131.5, '-User-defined SNPs/genes']
];
overlayLines.forEach(([y, s]) => g.push(T(484, y, s, { color: '#222' })));
g.push(T(588, 29, '{n|(6) }{b|Annotate (HGNC gene}', { rich }));
g.push(T(588, 37.7, '{b|groups, GO terms,}', { rich }));
g.push(T(588, 46, '{b|MSigDB gene sets)}', { rich }));
g.push(T(588, 59, '{n|(7) }{b|Assess tissue}', { rich }));
g.push(T(588, 67.3, '{b|enrichment (GTEx, HPA,}', { rich }));
g.push(T(588, 75.7, '{b|user-defined data)}', { rich }));
g.push(T(588, 89.7, '{n|(8) }{b|Compare different}', { rich }));
g.push(T(588, 98.3, '{b|proteomic datasets}', { rich }));
g.push(circ(612, 122.5, 16.5, 'rgba(190,212,238,0.8)', null, 1));
g.push(circ(637, 122.5, 16.5, 'rgba(246,170,205,0.7)', null, 1));
g.push(T(588, 121, 'dataset x', { color: '#222' }));
g.push(T(634.5, 121, 'dataset y', { color: '#222' }));

// panels b-e labels, axis names, legends
g.push(T(2.5, 169.5, 'b', { bold: true, size: 9.5 }));
g.push(T(230.5, 169.5, 'c', { bold: true, size: 9.5 }));
g.push(T(458.5, 169.5, 'd', { bold: true, size: 9.5 }));
g.push(T(2.5, 436, 'e', { bold: true, size: 9.5 }));
g.push(T(415.5, 443.5, 'f', { bold: true, size: 9.5 }));
[[116, 398.3, 122, 218], [341, 398.3, 347, 218], [569, 398.3, 575.5, 219], [116, 645, 123, 464]].forEach(a => {
  g.push(T(a[0], a[1], 'log\u2082(Fold change)', { align: 'center', color: '#222' }));
  g.push(T(a[2], a[3], '-log\u2081\u2080(P)', { align: 'center', rot: Math.PI / 2, color: '#222' }));
});
const legSize = 6.5;
g.push(T(92, 177, 'InWeb_InBioMap', { bold: true, size: legSize }));
g.push(circ(93.5, 184.3, 2.3, '#f4c20d', '#555'));
g.push(T(96.5, 184.3, 'interactor', { size: legSize }));
g.push(circ(93.5, 192, 2.3, GRAY, '#888'));
g.push(T(96.5, 192, 'non-interactor', { size: legSize }));

g.push(T(251, 176.5, 'GWAS genes', { bold: true, size: legSize }));
g.push(circ(255, 184.3, 2.3, '#f39a1c', '#555'));
g.push(T(258, 184.3, 'interactor', { size: legSize }));
g.push(circ(255, 192, 2.3, GRAY, '#777'));
g.push(T(258, 192, 'non-interactor', { size: legSize }));
g.push(T(315.7, 176.5, 'Exome-seq genes', { bold: true, size: legSize }));
g.push(rect(316.7, 182, 4.5, 4.5, '#2b3b98', '#222', 0.5, 10));
g.push(T(325.5, 184.3, 'interactor', { size: legSize }));
g.push(rect(316.7, 189.7, 4.5, 4.5, '#cfcbcb', '#888', 0.6, 10));
g.push(T(325.5, 192, 'non-interactor', { size: legSize }));
g.push(T(386.7, 176.5, 'WGS genes', { bold: true, size: legSize }));
g.push(tri(391, 184.3, 6, '#9a2fb2', '#333'));
g.push(T(397, 184.3, 'interactor', { size: legSize }));
g.push(tri(391, 192, 6, '#ddd', '#666'));
g.push(T(397, 192, 'non-interactor', { size: legSize }));

g.push(T(538.3, 177.3, 'gnomAD pLI \u2265 0.99 genes', { bold: true, size: legSize }));
g.push(circ(541.3, 184.7, 2.3, '#d8408c', '#555'));
g.push(T(546, 184.7, 'interactor', { size: legSize }));
g.push(circ(541.3, 192.5, 2.3, '#c2bebe', '#333'));
g.push(T(546, 192.5, 'non-interactor', { size: legSize }));

// panel e legend
g.push(T(237.7, 442.5, 'HGNC gene group', { bold: true, size: 6.8 }));
const legendY = [457.3, 472.7, 488, 503.3, 519, 534.3, 550, 565.3, 581, 596.7, 612, 627.3, 643];
const legendSq = [10, 7, 6, 5.5, 3.5, 3.5, 3.5, 3.5, 3.5, 3.5, 3.5, 3.5, 3.5];
hgncGroups.forEach((name, i) => {
  const s = legendSq[i];
  g.push(rect(243 - s / 2, legendY[i] - s / 2, s, s, hgncColors[i], i < 4 ? groupBorders[i] : null, i < 4 ? 0.7 : 0, 10));
  g.push(T(251, legendY[i], name, { size: 6.8, color: '#222' }));
});

// panel f texts
g.push(T(476.7, 506.7, vennLabels[0], { align: 'center', color: '#222' }));
g.push(T(605.7, 506.7, vennLabels[1], { align: 'center', color: '#222' }));
g.push(T(413, 572, 'replicate 2 log\u2082FC', { align: 'center', rot: Math.PI / 2, color: '#222' }));
g.push(T(553, 572, 'replicate 2 log\u2082FC', { align: 'center', rot: Math.PI / 2, color: '#222' }));
g.push(T(482.5, 646, 'replicate 1 log\u2082FC', { align: 'center', color: '#222' }));
g.push(T(625, 646, 'replicate 1 log\u2082FC', { align: 'center', color: '#222' }));

const gridBox = (left, top, width, height) => ({ left, top, width, height, outerBoundsMode: 'none' });
const option = {
  animation: false,
  textStyle: { fontFamily: FONT },
  grid: [
    gridBox(11.7, 205.3, 193.3, 172),
    gridBox(236, 205.3, 193.3, 172),
    gridBox(463.1, 208.3, 195.1, 169),
    gridBox(11.7, 451.4, 193.3, 171.3),
    gridBox(430, 527.7, 102.6, 95),
    gridBox(570.7, 527.7, 102.6, 95),
    gridBox(467.5, 425, 150, 80),
    gridBox(236.7, 53.3, 40, 47),
    gridBox(353, 47, 80, 70)
  ],
  xAxis: [
    volcanoX(0), volcanoX(1), volcanoX(2), volcanoX(3),
    repAxis(4, 0.26), repAxis(5, 0.26),
    hiddenAxis(6, -1, 1), hiddenAxis(7, 0, 10),
    { gridIndex: 8, type: 'value', min: -3, max: 5, axisLine: { lineStyle: { color: '#444', width: 1 } },
      axisTick: { show: false }, axisLabel: { show: false }, splitLine: { show: false } }
  ],
  yAxis: [
    volcanoY(0), volcanoY(1), volcanoY(2), volcanoY(3),
    repAxis(4, 0.29), repAxis(5, 0.29),
    hiddenAxis(6, -1, 1), hiddenAxis(7, 0, 10),
    { gridIndex: 8, type: 'value', min: 0, max: 7, axisLine: { onZero: true, lineStyle: { color: '#444', width: 1 } },
      axisTick: { show: false }, axisLabel: { show: false }, splitLine: { show: false } }
  ],
  series,
  graphic: { elements: g }
};
chart.setOption(option);
</script>
</body>
</html>
